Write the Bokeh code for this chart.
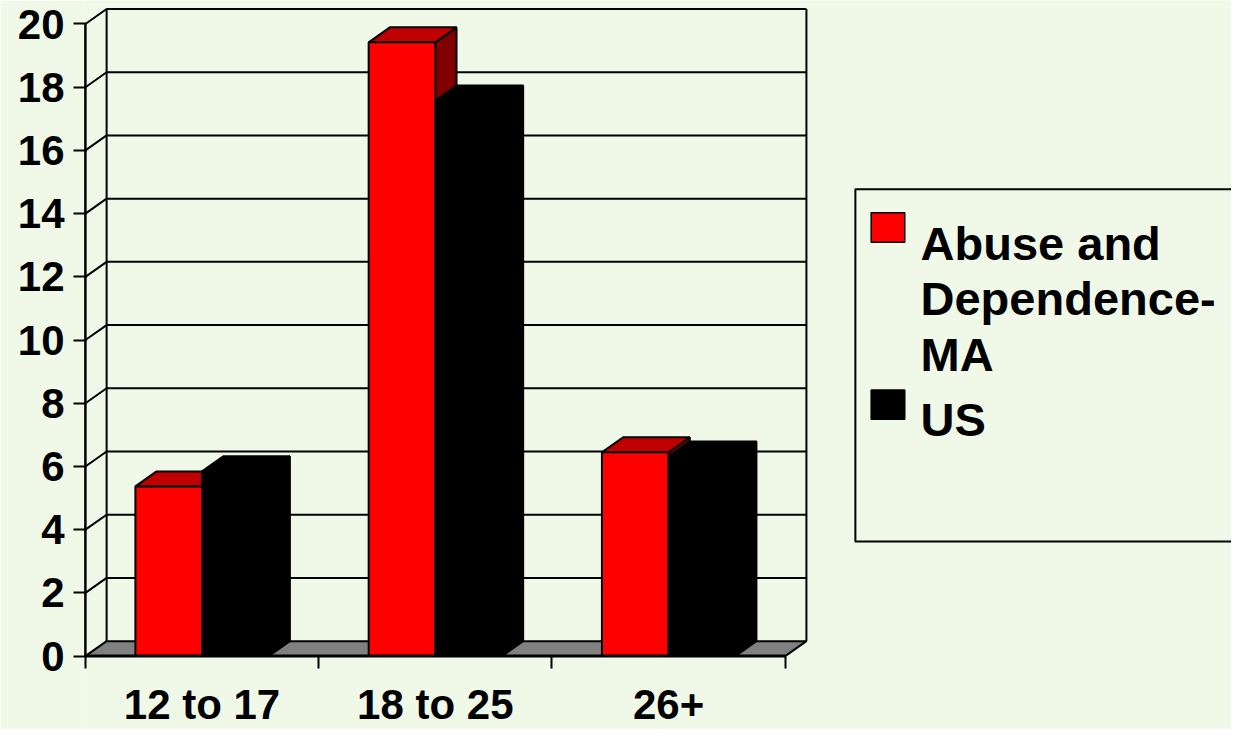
from bokeh.plotting import figure
from bokeh.models import Range1d, FixedTicker, ColumnDataSource
from bokeh.core.properties import value
from bokeh.embed import file_html
from bokeh.resources import INLINE

# ---------------- data ----------------
categories = ["12 to 17", "18 to 25", "26+"]
ma_values = [5.37, 19.42, 6.45]      # Abuse and Dependence - MA
us_values = [5.85, 17.58, 6.32]      # US
ma_legend_lines = ["Abuse and", "Dependence-", "MA"]
us_legend_lines = ["US"]
y_ticks = [0, 2, 4, 6, 8, 10, 12, 14, 16, 18, 20]

# ---------------- layout constants ----------------
BG = "#F0F8E8"
FONT = "Liberation Sans"
FIG_W, FIG_H = 1231, 729
REF_W, REF_H = 1247, 745            # layout measured on a 1247x745 sheet
SX, SY = FIG_W / REF_W, FIG_H / REF_H
X0_REF, PX_PER_CAT_REF = 86.0, 236.3
Y0_REF, PX_PER_UNIT_REF = 670.0, 32.3
BORDER_LEFT = 83

def xd(rx):
    return (rx - X0_REF) / PX_PER_CAT_REF

def yd(ry):
    return (Y0_REF - ry) / PX_PER_UNIT_REF

x_range = Range1d(xd(BORDER_LEFT / SX), xd(REF_W))
y_range = Range1d(yd(REF_H), yd(0))

DX = 21.5 / PX_PER_CAT_REF      # depth offset
DY = 15.3 / PX_PER_UNIT_REF
BW = 67.5 / PX_PER_CAT_REF      # bar width
NCAT = len(categories)
YMAX = y_ticks[-1]

p = figure(width=FIG_W, height=FIG_H, x_range=x_range, y_range=y_range,
           output_backend="svg", toolbar_location=None,
           min_border_left=BORDER_LEFT, min_border_right=0,
           min_border_top=0, min_border_bottom=0)
p.background_fill_color = BG
p.border_fill_color = BG
p.outline_line_color = None
p.xgrid.visible = False
p.ygrid.visible = False

# ---------------- axes ----------------
ya = p.yaxis[0]
ya.ticker = FixedTicker(ticks=y_ticks)
ya.axis_line_color = None
ya.major_tick_out = 10
ya.major_tick_in = 3
ya.major_tick_line_width = 2
ya.major_tick_line_color = "black"
ya.minor_tick_line_color = None
ya.major_label_standoff = 9
ya.major_label_text_font = FONT
ya.major_label_text_font_style = "bold"
ya.major_label_text_font_size = "42px"
ya.major_label_text_color = "black"

xa = p.xaxis[0]
centers = [i + 0.5 for i in range(NCAT)]
xa.ticker = FixedTicker(ticks=centers, minor_ticks=list(range(NCAT + 1)))
xa.major_label_overrides = {c: lab for c, lab in zip(centers, categories)}
xa.fixed_location = 0
xa.axis_line_color = None
xa.major_tick_line_color = None
xa.major_tick_out = 0
xa.major_tick_in = 0
xa.minor_tick_out = 12
xa.minor_tick_in = 0
xa.minor_tick_line_width = 2
xa.minor_tick_line_color = "black"
xa.major_label_standoff = 13
xa.major_label_text_font = FONT
xa.major_label_text_font_style = "bold"
xa.major_label_text_font_size = "42px"
xa.major_label_text_color = "black"

# ---------------- walls & gridlines ----------------
grid_xs = [[0, DX, NCAT + DX] for v in y_ticks[1:]]
grid_ys = [[v, v + DY, v + DY] for v in y_ticks[1:]]
grid_xs += [[DX, DX], [NCAT + DX, NCAT + DX]]
grid_ys += [[DY, YMAX + DY], [DY, YMAX + DY]]
p.multi_line(grid_xs, grid_ys, line_color="black", line_width=2)

# floor
p.patch([0, NCAT, NCAT + DX, DX], [0, 0, DY, DY], fill_color="#808080",
        line_color="black", line_width=2)

# ---------------- bars ----------------
def draw_bars(vals, offset, front, top, side):
    lefts = [i + 0.5 + offset for i in range(NCAT)]
    rights = [l + BW for l in lefts]
    src = ColumnDataSource(dict(left=lefts, right=rights, top=vals,
                                bottom=[0] * NCAT))
    txs = [[l, r, r + DX, l + DX] for l, r in zip(lefts, rights)]
    tys = [[v, v, v + DY, v + DY] for v in vals]
    sxs = [[r, r + DX, r + DX, r] for r in rights]
    sys_ = [[0, DY, v + DY, v] for v in vals]
    p.patches(sxs, sys_, fill_color=side, line_color="black", line_width=2)
    p.patches(txs, tys, fill_color=top, line_color="black", line_width=2)
    p.quad(left="left", right="right", top="top", bottom="bottom", source=src,
           fill_color=front, line_color="black", line_width=2)

draw_bars(ma_values, -BW, "#FF0000", "#C00000", "#800000")
draw_bars(us_values, 0.0, "#000000", "#000000", "#000000")

# front axis line and floor front edge
p.line([0, 0], [0, YMAX], line_color="black", line_width=2.5)
p.line([0, NCAT], [0, 0], line_color="black", line_width=3)

# ---------------- legend (drawn) ----------------
LEG_L, LEG_T, LEG_B = 866, 193, 553
p.line([xd(REF_W) + 0.1, xd(LEG_L), xd(LEG_L), xd(REF_W) + 0.1],
       [yd(LEG_T), yd(LEG_T), yd(LEG_B), yd(LEG_B)],
       line_color="black", line_width=2)

MK_L, MK_R = 882, 916
p.quad(left=[xd(MK_L)], right=[xd(MK_R)], top=[yd(217)], bottom=[yd(247)],
       fill_color="#FF0000", line_color="black", line_width=1.5)
p.quad(left=[xd(MK_L)], right=[xd(MK_R)], top=[yd(398)], bottom=[yd(428)],
       fill_color="#000000", line_color="black", line_width=1.5)

TXT_X = 932
ma_baselines = [248, 305, 362]
us_baselines = [428]
p.text(x=[xd(TXT_X)] * len(ma_legend_lines), y=[yd(b) for b in ma_baselines],
       text=ma_legend_lines, text_font=value(FONT), text_font_style="bold",
       text_font_size="47px", text_color="black", text_baseline="alphabetic",
       text_align="left")
p.text(x=[xd(TXT_X)] * len(us_legend_lines), y=[yd(b) for b in us_baselines],
       text=us_legend_lines, text_font=value(FONT), text_font_style="bold",
       text_font_size="47px", text_color="black", text_baseline="alphabetic",
       text_align="left")

open("out.html", "w").write(file_html(p, INLINE))
